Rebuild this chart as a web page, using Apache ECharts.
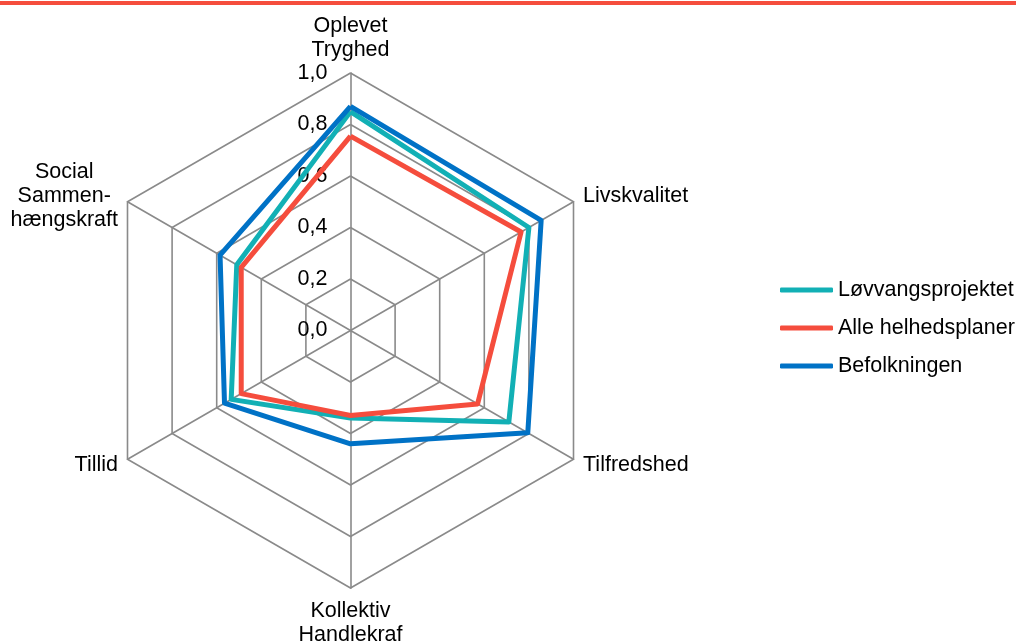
<!DOCTYPE html>
<html>
<head>
<meta charset="utf-8">
<script src="https://cdn.jsdelivr.net/npm/echarts@6/dist/echarts.min.js"></script>
<style>
  html, body { margin: 0; padding: 0; background: #fff; }
  #chart { width: 1016px; height: 644px; }
</style>
</head>
<body>
<div id="chart"></div>
<script>
// indikatorer i ECharts-rækkefølge (mod uret fra toppen)
const categories = [
  'Oplevet\nTryghed',
  'Social\nSammen-\nhængskraft',
  'Tillid',
  'Kollektiv\nHandlekraf',
  'Tilfredshed',
  'Livskvalitet'
]
const seriesNames = ['Løvvangsprojektet', 'Alle helhedsplaner', 'Befolkningen']
const lovvang = [0.85, 0.51, 0.535, 0.34, 0.71, 0.80]
const helhed = [0.755, 0.49, 0.49, 0.33, 0.57, 0.765]
const befolkning = [0.87, 0.585, 0.565, 0.44, 0.795, 0.855]
const tickLabels = ['0,0', '0,2', '0,4', '0,6', '0,8', '1,0']

const colors = ['#12b0b5', '#f54d3d', '#0072c6']
const font = "'Liberation Sans', Arial, sans-serif"
const fs = 21.5
const center = [350.5, 330.5]
const radius = 257.5

const chart = echarts.init(document.getElementById('chart'))

chart.setOption({
  animation: false,
  textStyle: { fontFamily: font },
  graphic: [
    { type: 'rect', left: 0, top: 1, shape: { width: 1016, height: 4 }, style: { fill: '#f54d3d' } }
  ],
  legend: {
    orient: 'vertical',
    left: 775,
    top: 273,
    icon: 'roundRect',
    itemWidth: 53,
    itemHeight: 5,
    itemGap: 14,
    textStyle: { fontSize: fs, color: '#000', fontFamily: font, lineHeight: 24 },
    data: seriesNames
  },
  // polar bruges kun til skalaen 0,0 - 1,0 langs den øverste akse
  polar: { center: center, radius: radius },
  angleAxis: { show: false, startAngle: 90, min: 0, max: 360 },
  radiusAxis: {
    min: 0,
    max: 1,
    interval: 0.2,
    axisLine: { show: false },
    axisTick: { show: false },
    splitLine: { show: false },
    axisLabel: {
      fontSize: fs,
      color: '#000',
      fontFamily: font,
      margin: 23,
      formatter: (v) => tickLabels[Math.round(v * 5)]
    }
  },
  radar: {
    center: center,
    radius: radius,
    startAngle: 90,
    splitNumber: 5,
    shape: 'polygon',
    nameGap: 11,
    axisName: {
      color: '#000',
      fontSize: fs,
      fontFamily: font,
      lineHeight: 24,
      formatter: (name) => name.split('\n').map((s) => '{c|' + s + '}').join('\n'),
      rich: { c: { align: 'center', fontSize: fs, lineHeight: 24, fontFamily: font, color: '#000' } }
    },
    axisLine: { lineStyle: { color: '#8a8a8a', width: 1.6 } },
    splitLine: { lineStyle: { color: '#8a8a8a', width: 1.6 } },
    splitArea: { show: false },
    indicator: categories.map((c) => ({ name: c, min: 0, max: 1 }))
  },
  series: [
    {
      type: 'radar',
      symbol: 'none',
      lineStyle: { width: 5 },
      data: [
        { name: seriesNames[0], value: lovvang, itemStyle: { color: colors[0] }, lineStyle: { color: colors[0], width: 5 } },
        { name: seriesNames[1], value: helhed, itemStyle: { color: colors[1] }, lineStyle: { color: colors[1], width: 5 } },
        { name: seriesNames[2], value: befolkning, itemStyle: { color: colors[2] }, lineStyle: { color: colors[2], width: 5 } }
      ]
    }
  ]
})
</script>
</body>
</html>
